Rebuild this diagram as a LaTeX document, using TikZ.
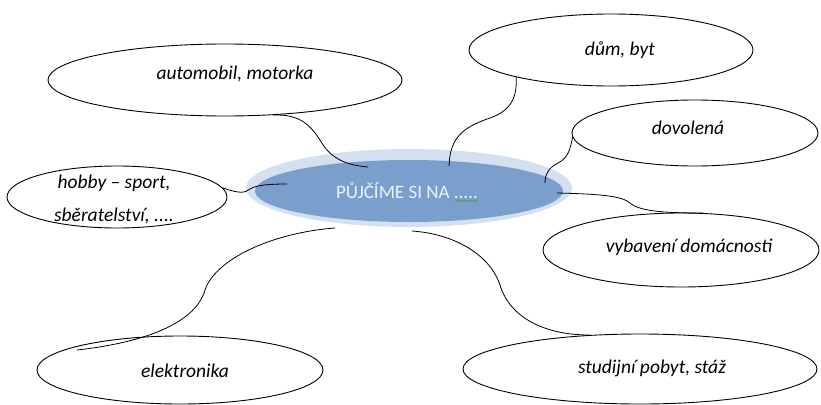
\documentclass[tikz,border=0pt]{standalone}
\usepackage{fontspec}
\setmainfont{Carlito}
\usetikzlibrary{shapes.geometric,decorations.pathmorphing}
\definecolor{hubfill}{RGB}{122,159,204}
\definecolor{hubhalo}{RGB}{212,223,239}
\definecolor{hubtext}{RGB}{236,242,250}
\definecolor{spell}{RGB}{60,170,60}
\begin{document}
\begin{tikzpicture}[x=1pt,y=-1pt,
  bubble/.style={ellipse,draw=black,line width=0.9pt,fill=white,inner sep=0pt},
  lbl/.style={font=\fontsize{19.5}{33}\selectfont\itshape,align=center,inner sep=0pt},
  conn/.style={draw=black,line width=0.8pt}]
\useasboundingbox (0,0) rectangle (821,404);

% central topic
\node[ellipse,fill=hubhalo,minimum width=326pt,minimum height=78pt,inner sep=0pt] (halo) at (409,188) {};
\node[ellipse,fill=hubfill,minimum width=308pt,minimum height=62pt,inner sep=0pt] (hub) at (409,191) {};
\node[font=\fontsize{19}{22}\selectfont,text=hubtext,inner sep=0pt] (hubtxt) at (407,191) {PŮJČÍME SI NA .....};
\draw[spell,line width=0.6pt,decorate,decoration={snake,amplitude=0.8pt,segment length=3pt}]
  (hubtxt.south east) ++(-23,1.5) coordinate (sp1) -- ++(23,0);

% surrounding bubbles
\node[bubble,minimum width=354pt,minimum height=72pt] (auto) at (225,80) {};
\node[lbl] at (235,74) {automobil, motorka};
\node[bubble,minimum width=284pt,minimum height=72pt] (dum) at (611,50) {};
\node[lbl] at (620,50) {dům, byt};
\node[bubble,minimum width=246pt,minimum height=66pt] (dov) at (695,133) {};
\node[lbl] at (688,128) {dovolená};
\node[bubble,minimum width=220pt,minimum height=62pt] (hob) at (117,197) {};
\node[lbl] at (114,199) {hobby – sport,\\sběratelství, ....};
\node[bubble,minimum width=276pt,minimum height=74pt] (vyb) at (681,250) {};
\node[lbl] at (689,247) {vybavení domácnosti};
\node[bubble,minimum width=354pt,minimum height=70pt] (stu) at (640,369) {};
\node[lbl] at (652,368) {studijní pobyt, stáž};
\node[bubble,minimum width=286pt,minimum height=68pt] (elk) at (180,370) {};
\node[lbl] at (185,371) {elektronika};

% free ends of the connectors, inside the central topic
\coordinate (h1) at (368,167);
\coordinate (h2) at (449,166);
\coordinate (h3) at (545,183);
\coordinate (h4) at (557,193);
\coordinate (h5) at (412,231);
\coordinate (h6) at (335,228);
\coordinate (h7) at (287,184);
\coordinate (elktip) at (77,350);

% connectors
\draw[conn] (auto.-36) .. controls (300,114) and (310,125) .. (320,140)
  .. controls (330,158) and (345,165) .. (h1);
\draw[conn] (dum.-164) .. controls (517,95) and (513,110) .. (490,118)
  .. controls (460,128) and (450,140) .. (h2);
\draw[conn] (dov.182) .. controls (570,150) and (568,158) .. (558,163)
  .. controls (548,168) and (545,175) .. (h3);
\draw[conn] (h4) .. controls (600,194) and (622,196) .. (630,203)
  .. controls (640,212) and (670,213) .. (vyb.59);
\draw[conn] (h5) .. controls (455,234) and (490,255) .. (500,285)
  .. controls (510,318) and (545,335) .. (stu.146);
\draw[conn] (h6) .. controls (270,233) and (215,260) .. (205,290)
  .. controls (195,325) and (140,343) .. (elktip);
\draw[conn] (hob.5) .. controls (240,194) and (245,193) .. (250,189)
  .. controls (256,185) and (270,184) .. (h7);
\end{tikzpicture}
\end{document}
